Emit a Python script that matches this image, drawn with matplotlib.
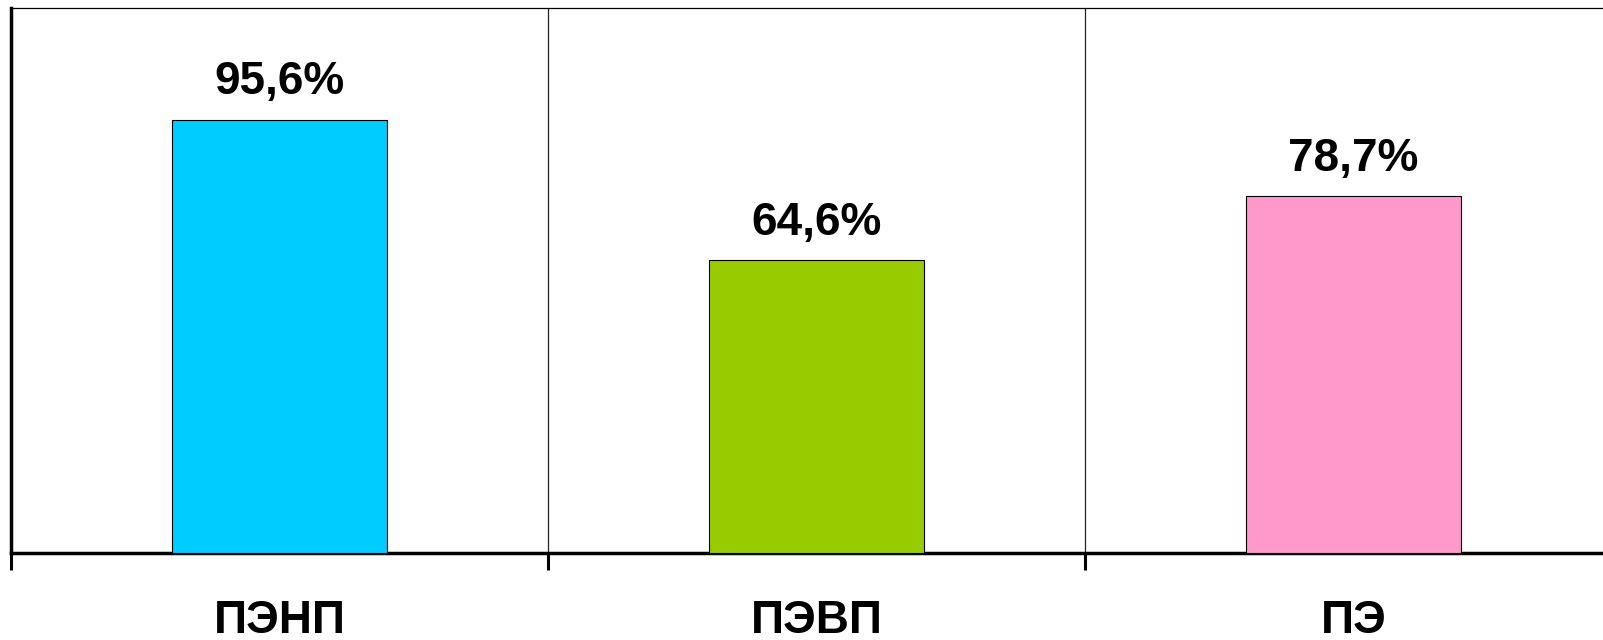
import matplotlib.pyplot as plt
import numpy as np

categories = ["ПЭНП", "ПЭВП", "ПЭ"]
values = [95.6, 64.6, 78.7]
labels = ["95,6%", "64,6%", "78,7%"]
colors = ["#00CCFF", "#99CC00", "#FF99CC"]

plt.rcParams["font.family"] = ["Liberation Sans", "DejaVu Sans"]

fig = plt.figure(figsize=(16.03, 6.4), dpi=100)
ax = fig.add_axes([11 / 1603, 1 - 553 / 640, 1 - 11 / 1603, (553 - 8) / 640])

x = np.arange(len(categories)) + 0.5
ax.bar(x, values, width=0.4, color=colors, edgecolor="black", linewidth=0.8, zorder=3)

for xi, v, lab in zip(x, values, labels):
    ax.annotate(lab, (xi, v), xytext=(0, 11), textcoords="offset points",
                ha="center", va="bottom", fontsize=33, fontweight="bold")

ax.set_xlim(0, 1592 / 537)
ax.set_ylim(0, 120.2)

# vertical separators between categories
for b in range(1, len(categories)):
    ax.axvline(b, color="#222222", linewidth=0.9, zorder=1)

ax.set_xticks(np.arange(len(categories)))
ax.set_xticklabels([])
ax.set_xticks(x, minor=True)
ax.set_xticklabels(categories, minor=True, fontsize=33, fontweight="bold")
ax.tick_params(axis="x", which="major", direction="out", length=12, width=2.2)
ax.tick_params(axis="x", which="minor", length=0, pad=33)
ax.set_yticks([])

ax.spines["left"].set_linewidth(2.5)
ax.spines["bottom"].set_linewidth(2.5)
ax.spines["top"].set_linewidth(0.9)
ax.spines["right"].set_visible(False)

fig.savefig("out.png", dpi=100)
